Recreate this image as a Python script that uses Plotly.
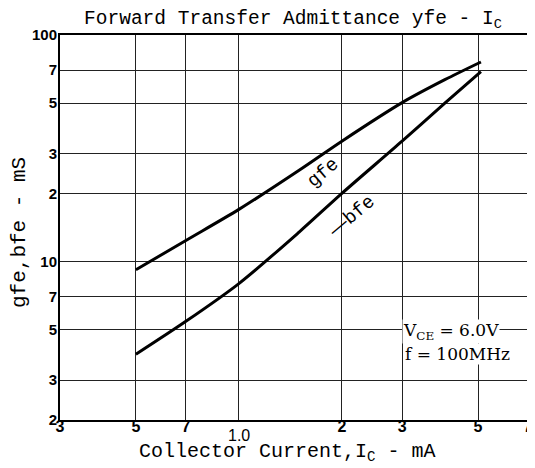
import math
import plotly.graph_objects as go

# ---- data (Ic in mA, admittance in mS) ----
ic_gfe = [0.5, 0.7, 1.0, 1.5, 2.0, 3.0, 4.0, 5.1]
gfe = [9.2, 12.4, 17.0, 25.3, 34.0, 50.3, 63.5, 76.0]

ic_bfe = [0.5, 0.7, 1.0, 1.5, 2.0, 3.0, 4.0, 5.1]
bfe = [3.9, 5.45, 8.0, 13.5, 20.0, 34.0, 50.0, 69.0]

x_tickvals = [0.3, 0.5, 0.7, 1.0, 2, 3, 5, 7]
x_ticktext = ["3", "5", "7", "", "2", "3", "5", "7"]
y_tickvals = [2, 3, 5, 7, 10, 20, 30, 50, 70, 100]
y_ticktext = ["2", "3", "5", "7", "10", "2", "3", "5", "7", "100"]

MONO = "Liberation Mono, Courier New, monospace"
SERIF = "DejaVu Serif, Liberation Serif, serif"
SANS = "Liberation Sans, Arial, sans-serif"

# the page body has an 8px margin; offset the figure so the plot lands in place
OFF = 8
W, H = 535, 468 - OFF
L, R, T, B = 52, 15, 27, 48
PW, PH = W - L - R, H - T - B


def px(xp):  # page pixel x -> paper x
    return (xp - OFF - L) / PW


def py(yp):  # page pixel y -> paper y
    return (H - B - (yp - OFF)) / PH


fig = go.Figure()
fig.add_trace(go.Scatter(x=ic_gfe, y=gfe, mode="lines", name="gfe",
                         line=dict(color="black", width=3, shape="spline", smoothing=0.8)))
fig.add_trace(go.Scatter(x=ic_bfe, y=bfe, mode="lines", name="-bfe",
                         line=dict(color="black", width=3, shape="spline", smoothing=0.8)))

fig.update_layout(
    width=W, height=H,
    margin=dict(l=L, r=R, t=T, b=B),
    paper_bgcolor="white", plot_bgcolor="white",
    showlegend=False,
    title=dict(text="Forward Transfer Admittance yfe - I<sub>C</sub>",
               x=px(293), xref="paper", xanchor="center",
               y=1 - (17 - OFF) / H, yref="container", yanchor="middle",
               font=dict(family=MONO, size=19.5, color="black")),
)

fig.update_xaxes(
    type="log", range=[math.log10(0.3) - 1e-6, math.log10(7) + 1e-6],
    tickvals=x_tickvals, ticktext=x_ticktext,
    tickfont=dict(family=SANS, size=16, color="black", weight="bold"),
    ticks="", ticklabelstandoff=-9, automargin=False, ticklabeloverflow="allow",
    showgrid=True, gridcolor="#222", gridwidth=1,
    showline=True, linecolor="black", linewidth=2, mirror=True,
)
fig.update_yaxes(
    type="log", range=[math.log10(2) - 1e-6, 2 + 1e-6],
    tickvals=y_tickvals, ticktext=y_ticktext,
    tickfont=dict(family=SANS, size=15, color="black", weight="bold"),
    ticks="", ticklabelstandoff=-2, automargin=False, ticklabeloverflow="allow",
    showgrid=True, gridcolor="#222", gridwidth=1,
    showline=True, linecolor="black", linewidth=2, mirror=True,
)

# the "1.0" label sits lower than the other x tick labels
fig.add_annotation(x=math.log10(1.0), y=0, xref="x", yref="paper", text="1.0",
                   showarrow=False, yanchor="middle", yshift=-15,
                   font=dict(family=SANS, size=16, color="black"))

# axis titles
fig.add_annotation(x=px(287), y=py(452), xref="paper", yref="paper",
                   text="Collector Current,I<sub>C</sub> - mA", showarrow=False,
                   xanchor="center", yanchor="middle",
                   font=dict(family=MONO, size=20, color="black"))
fig.add_annotation(x=px(20), y=py(233), xref="paper", yref="paper",
                   text="gfe,bfe - mS", showarrow=False, textangle=-90,
                   xanchor="center", yanchor="middle",
                   font=dict(family=MONO, size=21, color="black"))

# curve labels
fig.add_annotation(x=px(323), y=py(173), xref="paper", yref="paper",
                   text="gfe", showarrow=False, textangle=-40,
                   font=dict(family=MONO, size=19, color="black"))
fig.add_annotation(x=px(351), y=py(216), xref="paper", yref="paper",
                   text="<span style='font-family:Liberation Sans'>\u2014</span>bfe",
                   showarrow=False, textangle=-40,
                   font=dict(family=MONO, size=19, color="black"))

# conditions
fig.add_annotation(x=px(402), y=py(331), xref="paper", yref="paper",
                   text="V<sub>CE</sub> = 6.0V",
                   showarrow=False, xanchor="left", yanchor="middle",
                   bgcolor="white", borderpad=0,
                   font=dict(family=SERIF, size=17, color="black"))
fig.add_annotation(x=px(404), y=py(354), xref="paper", yref="paper",
                   text="f = 100MHz",
                   showarrow=False, xanchor="left", yanchor="middle",
                   bgcolor="white", borderpad=0,
                   font=dict(family=SERIF, size=17, color="black"))

fig.write_html("out.html")
